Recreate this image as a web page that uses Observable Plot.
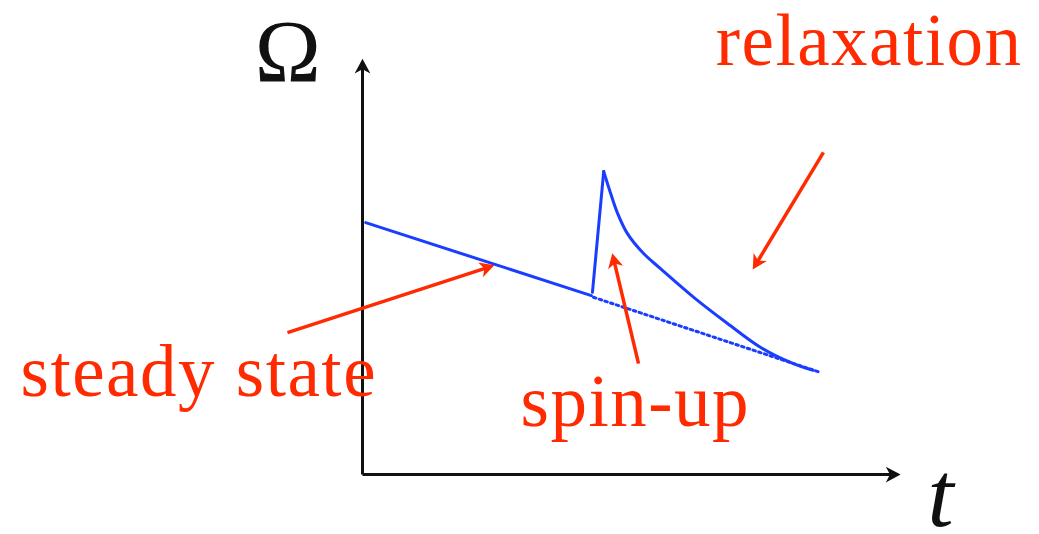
<!DOCTYPE html>
<html><head><meta charset="utf-8">
<script src="https://cdn.jsdelivr.net/npm/d3@7"></script>
<script src="https://cdn.jsdelivr.net/npm/@observablehq/plot@0.6"></script>
<style>html,body{margin:0;padding:0;background:#fff;} svg{display:block}</style>
</head><body><div id="chart"></div>
<script>
// ---- data (arbitrary units: t along x, Omega along y) ----
const steadyT = [0.6, 42.7];
const steadyW = [60.7, 43.1];
const spinT = [42.9, 45.0];
const spinW = [43.9, 73.0];
const relaxT = [45.0, 46.3, 47.6, 49.4, 52.4, 55.6, 61.8, 68.1, 74.3, 80.4, 84.1];
const relaxW = [73.0, 67.7, 62.9, 58.1, 53.3, 49.6, 42.7, 36.4, 30.6, 26.7, 25.1];
const extrapT = [43.1, 85.4];
const extrapW = [42.7, 24.6];

const axisT1 = [0, 100.4];
const axisW1 = [100.2, 0];

const labelText = ["relaxation", "steady state", "spin-up"];
const labelT = [65.9, -63.8, 29.5];
const labelW = [98.6, 19.0, 11.8];

const arrowFromT = [86.0, 51.5, -14.0];
const arrowFromW = [77.6, 26.7, 34.2];
const arrowToT = [72.8, 46.6, 24.6];
const arrowToW = [49.4, 53.3, 50.4];

const RED = "#ff2a00", BLUE = "#1a3dff", BLACK = "#111";

const X = {domain: [0, 100], range: [362, 898]};
const Y = {domain: [0, 100], range: [474, 59]};
const sx = Plot.scale({x: X});
const sy = Plot.scale({y: Y});

const pts = (T, W) => T.map((t, i) => ({t, w: W[i]}));

// arrow geometry in pixel space for rotation and shaft shortening
function mkArrows(fT, fW, tT, tW, back) {
  return fT.map((_, i) => {
    const x1 = sx.apply(fT[i]), y1 = sy.apply(fW[i]);
    const x2 = sx.apply(tT[i]), y2 = sy.apply(tW[i]);
    const dx = x2 - x1, dy = y2 - y1, len = Math.hypot(dx, dy);
    const ex = x2 - dx / len * back, ey = y2 - dy / len * back;
    return {
      t1: fT[i], w1: fW[i], t2: tT[i], w2: tW[i],
      te: sx.invert(ex), we: sy.invert(ey),
      angle: Math.atan2(dx, -dy) * 180 / Math.PI
    };
  });
}
const redArrows = mkArrows(arrowFromT, arrowFromW, arrowToT, arrowToW, 9);
const axes = mkArrows([0, 0], [0, 0], [axisT1[0], axisT1[1]], [axisW1[0], axisW1[1]], 9);

const head = {
  draw(ctx, size) {
    const r = Math.sqrt(size / Math.PI);
    const L = r * 1.65, W = r * 1.75;
    ctx.moveTo(0, 0);
    ctx.lineTo(-W / 2, L);
    ctx.lineTo(0, L * 0.72);
    ctx.lineTo(W / 2, L);
    ctx.closePath();
  }
};

const chart = Plot.plot({
  width: 1039, height: 534,
  margin: 0,
  x: {...X, axis: null},
  y: {...Y, axis: null},
  style: {background: "#fff", overflow: "visible"},
  marks: [
    // axes
    Plot.link(axes, {x1: "t1", y1: "w1", x2: "te", y2: "we", stroke: BLACK, strokeWidth: 3}),
    Plot.dot(axes, {x: "t2", y: "w2", symbol: head, r: 9, fill: BLACK, stroke: "none", rotate: "angle"}),
    // blue curves
    Plot.line(pts(extrapT, extrapW), {x: "t", y: "w", stroke: BLUE, strokeWidth: 3, strokeDasharray: "2.5,3.5"}),
    Plot.line(pts(steadyT, steadyW), {x: "t", y: "w", stroke: BLUE, strokeWidth: 3}),
    Plot.line(pts(spinT, spinW), {x: "t", y: "w", stroke: BLUE, strokeWidth: 3}),
    Plot.line(pts(relaxT, relaxW), {x: "t", y: "w", stroke: BLUE, strokeWidth: 3, curve: "catmull-rom"}),
    // red annotation arrows
    Plot.link(redArrows, {x1: "t1", y1: "w1", x2: "te", y2: "we", stroke: RED, strokeWidth: 3.5}),
    Plot.dot(redArrows, {x: "t2", y: "w2", symbol: head, r: 8.8, fill: RED, stroke: "none", rotate: "angle"}),
    // labels
    Plot.text(labelText, {x: (d, i) => labelT[i], y: (d, i) => labelW[i], text: d => d,
      fill: RED, fontSize: 73, fontFamily: "Liberation Serif", textAnchor: "start", lineAnchor: "bottom"}),
    Plot.text(["Ω"], {x: -20.1, y: 94.9, fill: BLACK, fontSize: 89, fontFamily: "Liberation Serif",
      textAnchor: "start", lineAnchor: "bottom"}),
    Plot.text(["t"], {x: 105.4, y: -12.4, fill: BLACK, fontSize: 94, fontFamily: "Liberation Serif",
      fontStyle: "italic", textAnchor: "start", lineAnchor: "bottom"})
  ]
});
d3.select(chart).selectAll("text").filter(function () { return labelText.includes(this.textContent); })
  .attr("letter-spacing", 1.5);
document.getElementById("chart").appendChild(chart);
</script></body></html>
